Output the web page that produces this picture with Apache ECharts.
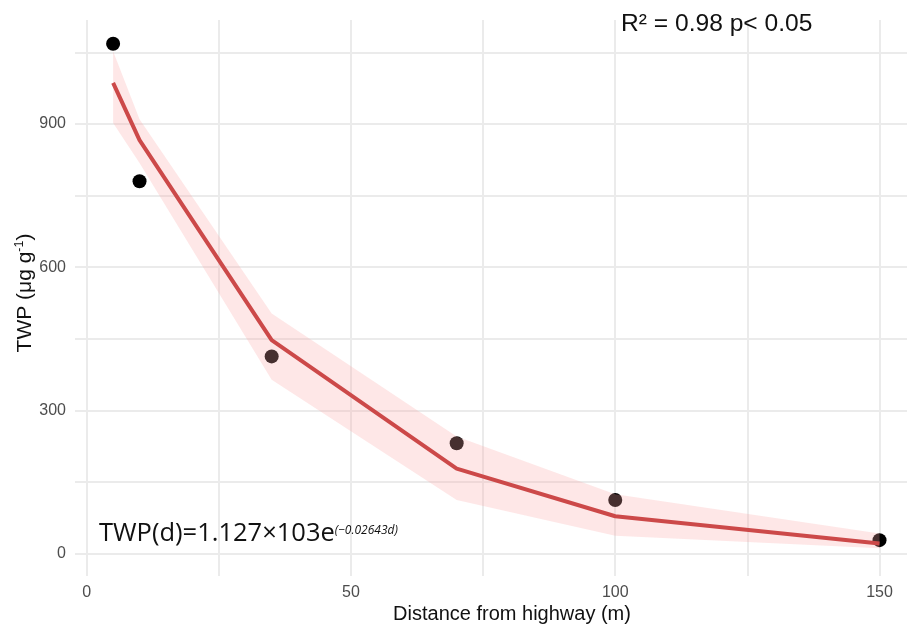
<!DOCTYPE html>
<html>
<head>
<meta charset="utf-8">
<script src="https://cdn.jsdelivr.net/npm/echarts@6/dist/echarts.min.js"></script>
<style>
html,body{margin:0;padding:0;background:#fff;}
#chart{width:907px;height:625px;}
</style>
</head>
<body>
<div id="chart"></div>
<script>
// ---- data ----
var distance = [5, 10, 35, 70, 100, 150];
var observedTWP = [1068, 780, 413, 231, 112, 28];
var fittedTWP = [986, 866, 447, 178, 78, 21];
var bandUpper = [1052, 910, 503, 245, 124, 42];
var bandLower = [902, 818, 364, 112, 37, 11];
var xTickLabels = [0, 50, 100, 150];
var yTickLabels = [0, 300, 600, 900];
var xGridValues = [0, 25, 50, 75, 100, 125, 150];
var yGridValues = [0, 150, 300, 450, 600, 750, 900, 1050];

var chart = echarts.init(document.getElementById('chart'), null, {renderer: 'canvas'});

var pts = distance.map(function (d, i) { return [d, observedTWP[i]]; });
var fitPts = distance.map(function (d, i) { return [d, fittedTWP[i]]; });
var bandData = distance.map(function (d, i) { return [d, bandLower[i], bandUpper[i]]; });

var gridColor = '#ebebeb';
var markData = [];
xGridValues.forEach(function (v) { markData.push({xAxis: v}); });
yGridValues.forEach(function (v) { markData.push({yAxis: v}); });

var option = {
  backgroundColor: '#ffffff',
  animation: false,
  grid: {left: 75, right: 0, top: 20, bottom: 49, containLabel: false},
  xAxis: {
    type: 'value',
    min: -2.21, max: 155.2,
    axisLine: {show: false},
    axisTick: {show: false},
    splitLine: {show: false},
    axisLabel: {
      customValues: xTickLabels,
      color: '#4d4d4d', fontSize: 16, fontFamily: 'Liberation Sans, Arial, sans-serif',
      margin: 9
    }
  },
  yAxis: {
    type: 'value',
    min: -47.1, max: 1117.7,
    axisLine: {show: false},
    axisTick: {show: false},
    splitLine: {show: false},
    axisLabel: {
      customValues: yTickLabels,
      color: '#4d4d4d', fontSize: 16, fontFamily: 'Liberation Sans, Arial, sans-serif',
      margin: 9
    }
  },
  series: [
    {
      type: 'scatter',
      name: 'grid',
      data: [],
      silent: true,
      z: 0,
      markLine: {
        silent: true,
        z: 0,
        symbol: ['none', 'none'],
        label: {show: false},
        lineStyle: {color: gridColor, width: 2, type: 'solid'},
        emphasis: {disabled: true},
        animation: false,
        data: markData
      }
    },
    {
      type: 'scatter',
      name: 'observed',
      data: pts,
      symbol: 'circle',
      symbolSize: 14,
      itemStyle: {color: '#000000', opacity: 1},
      z: 2
    },
    {
      type: 'custom',
      name: 'band',
      data: bandData,
      z: 3,
      encode: {x: 0, y: [1, 2]},
      renderItem: function (params, api) {
        if (params.dataIndex !== 0) return null;
        var poly = [];
        for (var i = 0; i < distance.length; i++) poly.push(api.coord([distance[i], bandUpper[i]]));
        for (var j = distance.length - 1; j >= 0; j--) poly.push(api.coord([distance[j], bandLower[j]]));
        return {
          type: 'polygon',
          shape: {points: poly},
          style: {fill: 'rgba(250,170,170,0.28)', stroke: null}
        };
      }
    },
    {
      type: 'line',
      name: 'fit',
      data: fitPts,
      symbol: 'none',
      lineStyle: {color: '#cc4949', width: 4},
      z: 4
    }
  ],
  graphic: [
    {
      type: 'text',
      x: 621, y: 24,
      style: {
        text: 'R² = 0.98 p< 0.05',
        fill: '#111111',
        font: '24.6px "Liberation Sans", Arial, sans-serif',
        verticalAlign: 'middle',
        align: 'left'
      },
      z: 10
    },
    {
      type: 'text',
      x: 99, y: 534,
      style: {
        text: '{m|TWP(d)=1.127×103e}{s|(−0.02643d)}',
        verticalAlign: 'middle',
        align: 'left',
        rich: {
          m: {fontSize: 25.5, fontFamily: '"Open Sans", sans-serif', fill: '#111111', lineHeight: 30},
          s: {fontSize: 12, fontStyle: 'italic', fontFamily: '"Open Sans", sans-serif', fill: '#111111', verticalAlign: 'middle', lineHeight: 14, padding: [0, 0, 7, 0]}
        }
      },
      z: 10
    },
    {
      type: 'text',
      x: 512, y: 614,
      style: {
        text: 'Distance from highway (m)',
        fill: '#111111',
        font: '20px "Liberation Sans", Arial, sans-serif',
        verticalAlign: 'middle',
        align: 'center'
      },
      z: 10
    },
    {
      type: 'text',
      x: 25, y: 293,
      rotation: Math.PI / 2,
      style: {
        text: '{m|TWP (μg g}{s|-1}{m|)}',
        verticalAlign: 'middle',
        align: 'center',
        rich: {
          m: {fontSize: 21, fontFamily: '"Liberation Sans", Arial, sans-serif', fill: '#111111', lineHeight: 24},
          s: {fontSize: 12.5, fontFamily: '"Liberation Sans", Arial, sans-serif', fill: '#111111', verticalAlign: 'top', lineHeight: 14}
        }
      },
      z: 10
    }
  ]
};
chart.setOption(option);
</script>
</body>
</html>
